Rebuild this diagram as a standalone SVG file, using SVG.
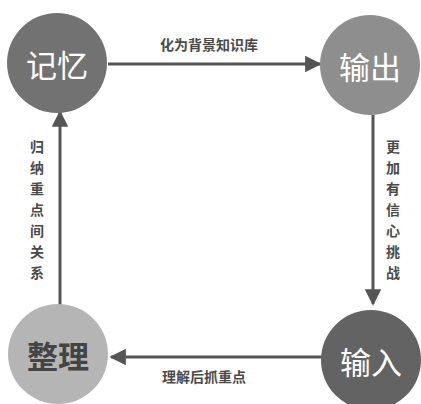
<svg xmlns="http://www.w3.org/2000/svg" width="421" height="404" viewBox="0 0 421 404">
<style>
.node-text{font-family:"Noto Sans CJK SC","Noto Sans",sans-serif;font-size:31px;text-anchor:middle;dominant-baseline:central;}
.label{font-family:"Noto Sans CJK SC","Noto Sans",sans-serif;font-size:14px;font-weight:bold;fill:#4a4a4a;text-anchor:middle;}
.conn{stroke:#555;stroke-width:3;fill:none;marker-end:url(#arr);}
</style>
<defs>
<marker id="arr" viewBox="0 0 10 10" refX="9" refY="5" markerWidth="5.5" markerHeight="5.5" orient="auto" markerUnits="strokeWidth">
<path d="M0,0 L10,5 L0,10 z" fill="#555"/>
</marker>
</defs>
<rect width="421" height="404" fill="#fff"/>
<g id="connectors">
<line class="conn" x1="108" y1="64" x2="320" y2="64"/>
<line class="conn" x1="373" y1="115" x2="373" y2="304"/>
<line class="conn" x1="322" y1="357" x2="111" y2="357"/>
<line class="conn" x1="60" y1="306" x2="60" y2="112"/>
<text class="label" x="209" y="50">化为背景知识库</text>
<text class="label" x="393" y="152">更</text>
<text class="label" x="393" y="173">加</text>
<text class="label" x="393" y="194">有</text>
<text class="label" x="393" y="215">信</text>
<text class="label" x="393" y="236">心</text>
<text class="label" x="393" y="257">挑</text>
<text class="label" x="393" y="278">战</text>
<text class="label" x="37" y="152">归</text>
<text class="label" x="37" y="173">纳</text>
<text class="label" x="37" y="194">重</text>
<text class="label" x="37" y="215">点</text>
<text class="label" x="37" y="236">间</text>
<text class="label" x="37" y="257">关</text>
<text class="label" x="37" y="278">系</text>
<text class="label" x="204" y="382">理解后抓重点</text>
</g>
<g id="node-jiyi">
<circle cx="57" cy="63" r="50" fill="#727272"/>
<text class="node-text" x="57" y="63" fill="#fff">记忆</text>
</g>
<g id="node-shuchu">
<circle cx="370" cy="65" r="50" fill="#8e8e8e"/>
<text class="node-text" x="370" y="65" fill="#fff">输出</text>
</g>
<g id="node-shuru">
<circle cx="371" cy="360" r="50" fill="#636363"/>
<text class="node-text" x="371" y="360" fill="#fff">输入</text>
</g>
<g id="node-zhengli">
<circle cx="58" cy="354" r="50" fill="#b5b5b5"/>
<text class="node-text" x="58" y="354" fill="#444" font-weight="bold">整理</text>
</g>
</svg>
